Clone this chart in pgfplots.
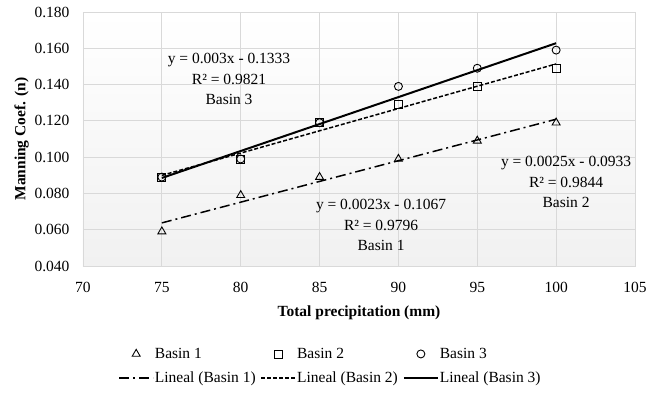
\documentclass[border=0pt]{standalone}
\usepackage{pgfplots}
\usepackage{pgfplotstable}
\pgfplotsset{compat=1.18}
\usepackage{fontspec}
\setmainfont{Liberation Serif}
\definecolor{gridc}{RGB}{217,217,217}
\pgfplotstableread{
x b1 b2 b3
75 0.059 0.089 0.089
80 0.079 0.099 0.099
85 0.089 0.119 0.119
90 0.099 0.129 0.139
95 0.109 0.139 0.149
100 0.119 0.149 0.159
}\data
\begin{document}
\begin{tikzpicture}
\useasboundingbox (-83pt,-128pt) rectangle (576pt,266pt);
\begin{axis}[
  at={(0,0)}, anchor=south west,
  width=552pt, height=254pt, scale only axis,
  xmin=70, xmax=105, ymin=0.04, ymax=0.18,
  xtick distance=5, ytick distance=0.02,
  major tick length=0pt,
  grid=major, grid style={gridc, line width=0.8pt},
  axis line style={gridc, line width=0.8pt},
  axis background/.style={shade, top color=white, middle color=gray!3, bottom color=gray!11},
  clip=false,
  /pgf/number format/assume math mode=true,
  ticklabel style={font=\fontsize{15.5}{18}\selectfont},
  yticklabel style={/pgf/number format/.cd, fixed, fixed zerofill, precision=3, /tikz/.cd, xshift=-10pt},
  xticklabel style={yshift=-13pt},
  xlabel={\textbf{Total precipitation (mm)}},
  ylabel={\textbf{Manning Coef. (n)}},
  label style={font=\fontsize{15.5}{18}\selectfont},
  x label style={at={(axis description cs:0.5,-0.185)}, anchor=center},
  y label style={at={(axis description cs:-0.1114,0.5)}, anchor=center},
  legend columns=3,
  legend cell align=left,
  legend style={draw=none, fill=none, at={(0.4475,-0.394)}, anchor=center,
    font=\fontsize{15.5}{18}\selectfont, nodes={inner sep=1pt},
    /tikz/every even column/.append style={column sep=4pt}, row sep=10pt},
  mklegend/.style={legend image code/.code={\path (0pt,0pt) (34pt,0pt); \draw[##1] plot coordinates {(17pt,0pt)};}},
  lnlegend/.style={legend image code/.code={\draw[##1] (0pt,0pt) -- (34pt,0pt);}},
]
\addplot[only marks, mark=triangle, mark size=4.6pt, mark options={black, line width=0.9pt}, mklegend] table[x=x,y=b1] {\data};
\addlegendentry{Basin 1}
\addplot[only marks, mark=square, mark size=4pt, mark options={black, line width=0.9pt}, mklegend] table[x=x,y=b2] {\data};
\addlegendentry{Basin 2}
\addplot[only marks, mark=o, mark size=4pt, mark options={black, line width=0.9pt}, mklegend] table[x=x,y=b3] {\data};
\addlegendentry{Basin 3}
\addplot[no marks, black, line width=1.5pt, dash pattern=on 10pt off 4pt on 2pt off 4pt, lnlegend] table[x=x, y={create col/linear regression={y=b1}}] {\data};
\addlegendentry{Lineal (Basin 1)}
\addplot[no marks, black, line width=1.5pt, dash pattern=on 4pt off 2pt, lnlegend] table[x=x, y={create col/linear regression={y=b2}}] {\data};
\addlegendentry{Lineal (Basin 2)}
\addplot[no marks, black, line width=2pt, lnlegend] table[x=x, y={create col/linear regression={y=b3}}] {\data};
\addlegendentry{Lineal (Basin 3)}
\node[align=center, font=\fontsize{15.5}{20.5}\selectfont] at (axis cs:79.26,0.1431) {y = 0.003x - 0.1333\\R² = 0.9821\\Basin 3};
\node[align=center, font=\fontsize{15.5}{20.5}\selectfont] at (axis cs:100.63,0.0863) {y = 0.0025x - 0.0933\\R² = 0.9844\\Basin 2};
\node[align=center, font=\fontsize{15.5}{20.5}\selectfont] at (axis cs:88.9,0.0626) {y = 0.0023x - 0.1067\\R² = 0.9796\\Basin 1};
\end{axis}
\end{tikzpicture}
\end{document}
